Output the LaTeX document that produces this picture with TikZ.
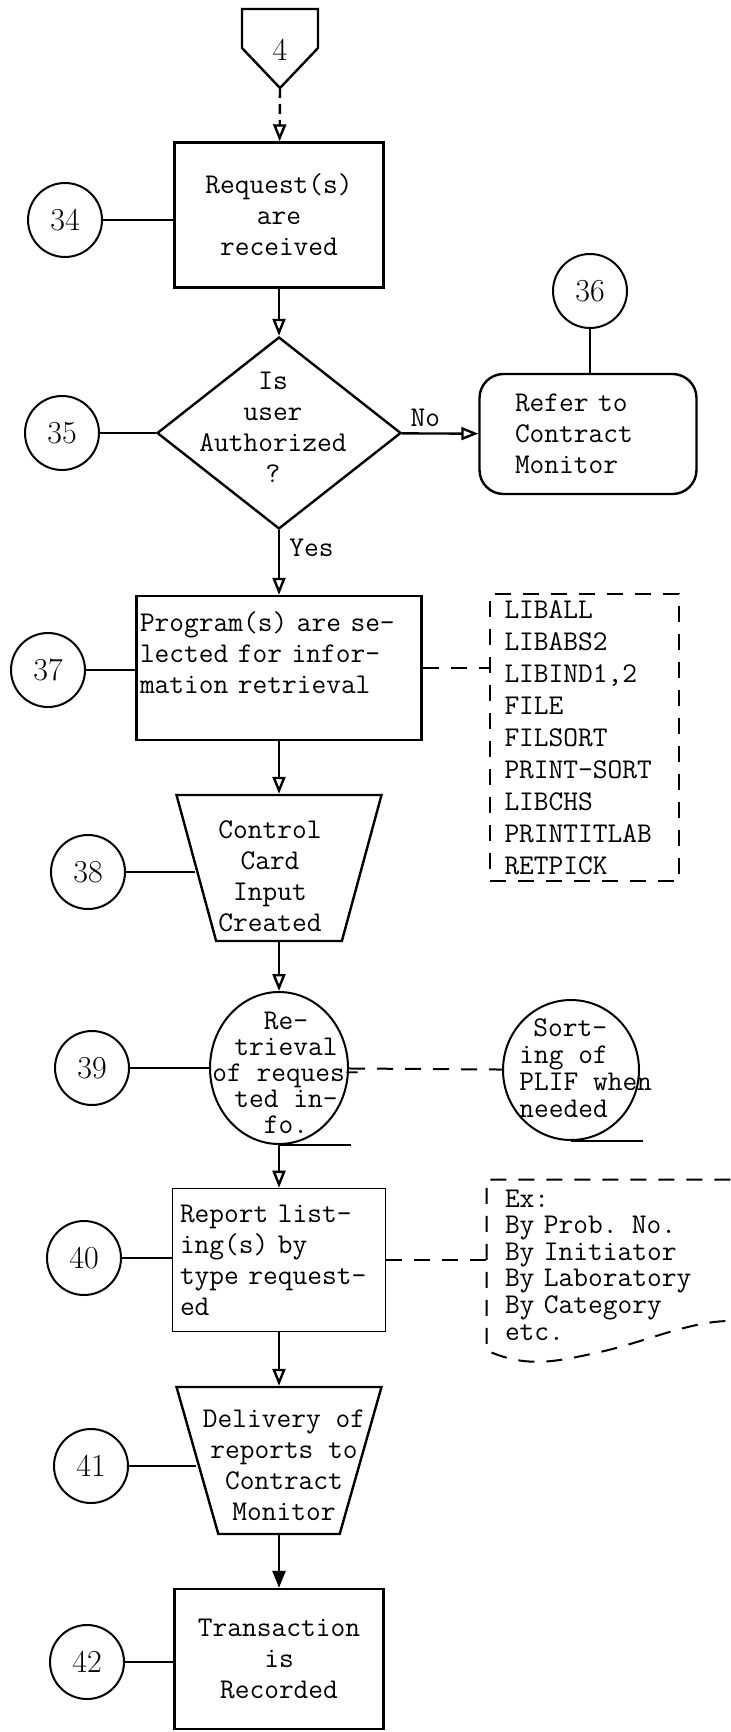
\documentclass[tikz,border=0pt]{standalone}
\usetikzlibrary{shapes.geometric,arrows.meta}
\newcommand\flowfont{\ttfamily\fontsize{14.3}{15.5}\selectfont}
\newcommand\numfont{\rmfamily\fontsize{16}{18}\selectfont}
\tikzset{
  proc/.style={draw,line width=1.2pt,inner sep=0pt,align=center,font=\flowfont},
  decide/.style={diamond,draw,line width=1.2pt,inner sep=0pt},
  manual/.style={trapezium,trapezium stretches,draw,line width=1.2pt,inner sep=2pt},
  tape/.style={ellipse,draw,line width=1pt,inner sep=0pt},
  num/.style={circle,draw,line width=1pt,minimum size=37pt,inner sep=0pt,font=\numfont},
  txt/.style={inner sep=0pt,align=center,font=\flowfont},
  link/.style={draw,line width=1.2pt},
  flow/.style={link,-{Triangle[open,length=8.5pt,width=6.5pt]}},
  dots/.style={draw,line width=1pt,dash pattern=on 8pt off 6pt},
}
\begin{document}
\begin{tikzpicture}[x=0.5pt,y=-0.5pt]
\useasboundingbox (0,0) rectangle (730,1732);
% off-page connector
\draw[line width=1.2pt] (242,9) -- (318,9) -- (318,48) -- (280,88) -- (242,48) -- cycle;
\node[txt,font=\numfont] (p4) at (280,50) {4};
\coordinate (p4tip) at (280,88);
% main column
\node[proc,minimum width=104.5pt,minimum height=72.5pt] (req) at (279,215) {Request(s)\\are\\received};
\node[decide,minimum width=122pt,minimum height=96pt] (auth) at (279,433) {};
\node[txt] (authtxt) at (273,427) {Is\\user\\Authorized\\?};
\node[txt,anchor=south west] (no) at ([xshift=4pt,yshift=3pt]auth.east) {No};
\node[txt,anchor=north west] (yes) at ([xshift=5pt,yshift=-4pt]auth.south) {Yes};
\node[proc,rounded corners=12pt,minimum width=108.5pt,minimum height=60pt,text width=73pt,align=left] (refer) at (588,434) {Refer to\\Contract\\Monitor};
\node[proc,minimum width=142.5pt,minimum height=72pt,text width=139pt,align=left] (prog) at (279,668) {Program(s) are se-\\lected for infor-\\mation retrieval\\\mbox{}};
\node[dots,minimum width=94.5pt,minimum height=143.5pt,text width=80pt,align=left,inner sep=0pt,font={\ttfamily\fontsize{14.3}{16}\selectfont}] (progs) at (584.5,737.5) {LIBALL\\LIBABS2\\LIBIND1,2\\FILE\\FILSORT\\PRINT-SORT\\LIBCHS\\PRINTITLAB\\RETPICK};
\node[manual,trapezium left angle=107.5,trapezium right angle=107.5,minimum width=102.5pt,minimum height=73pt] (card) at (279,868) {};
\node[txt] (cardtxt) at (270,876) {Control\\Card\\Input\\Created};
\node[tape,minimum width=69pt,minimum height=76pt] (retr) at (279,1068) {};
\node[txt,font={\ttfamily\fontsize{14.3}{13}\selectfont}] (retrtxt) at (286,1073) {Re-\\trieval\\of reques-\\ted in-\\fo.};
\draw[link] (retr.south) -- ++(72,0);
\node[tape,minimum width=68pt,minimum height=70pt] (sortt) at (571,1070) {};
\node[txt,anchor=west,align=left,font={\ttfamily\fontsize{14.3}{13.5}\selectfont}] (sorttxt) at (519,1068) {\hspace*{7pt}Sort-\\ing of\\PLIF when\\needed};
\draw[link] (sortt.south) -- ++(72,0);
\node[proc,line width=0.8pt,minimum width=106.5pt,minimum height=71.5pt,text width=99pt,align=left] (rep) at (279,1260) {Report list-\\ing(s) by\\type request-\\ed};
\node[minimum width=121.5pt,minimum height=85pt,text width=103.5pt,align=left,inner sep=0pt,font={\ttfamily\fontsize{14.3}{13.3}\selectfont}] (ex) at (608.5,1265) {Ex:\\By Prob. No.\\By Initiator\\By Laboratory\\By Category\\etc.};
\draw[dots] (ex.north east) -- (ex.north west) -- (ex.south west) .. controls +(40,18) and +(-45,10) .. (600,1352) .. controls +(45,-10) and +(-40,0) .. (730,1321);
\node[manual,trapezium left angle=109,trapezium right angle=109,minimum width=102.5pt,minimum height=73.5pt] (deliv) at (279,1460.5) {};
\node[txt] (delivtxt) at (284,1465) {Delivery of\\reports to\\Contract\\Monitor};
\node[proc,minimum width=104.5pt,minimum height=70pt] (trans) at (279,1659) {Transaction\\is\\Recorded};
% reference numbers
\foreach \n/\x/\y in {34/65/220,35/62/433,36/590/291,37/48/670,38/88/872,39/92/1068,40/84/1258,41/91/1466,42/87/1662}
  \node[num] (n\n) at (\x,\y) {\n};
\foreach \n/\t in {34/req,35/auth,37/prog,38/card,39/retr,40/rep,41/deliv,42/trans}
  \draw[link] (n\n) -- (n\n -| \t.west);
\draw[line width=0.6pt] (n36) -- (n36 |- refer.north);
% flow
\draw[flow,dash pattern=on 5pt off 3pt] (p4tip) -- (req);
\draw[flow] (req) -- (auth);
\draw[flow] (auth) -- (refer);
\draw[flow] (auth) -- (prog);
\draw[flow] (prog) -- (card);
\draw[flow] (card) -- (retr);
\draw[flow] (retr) -- (rep);
\draw[flow] (rep) -- (deliv);
\draw[link,-{Triangle[length=8.5pt,width=6.5pt]}] (deliv) -- (trans);
\draw[dots] (prog) -- (prog -| progs.west);
\draw[dots] (retr) -- (sortt);
\draw[dots] (rep) -- (rep -| ex.west);
\end{tikzpicture}
\end{document}
